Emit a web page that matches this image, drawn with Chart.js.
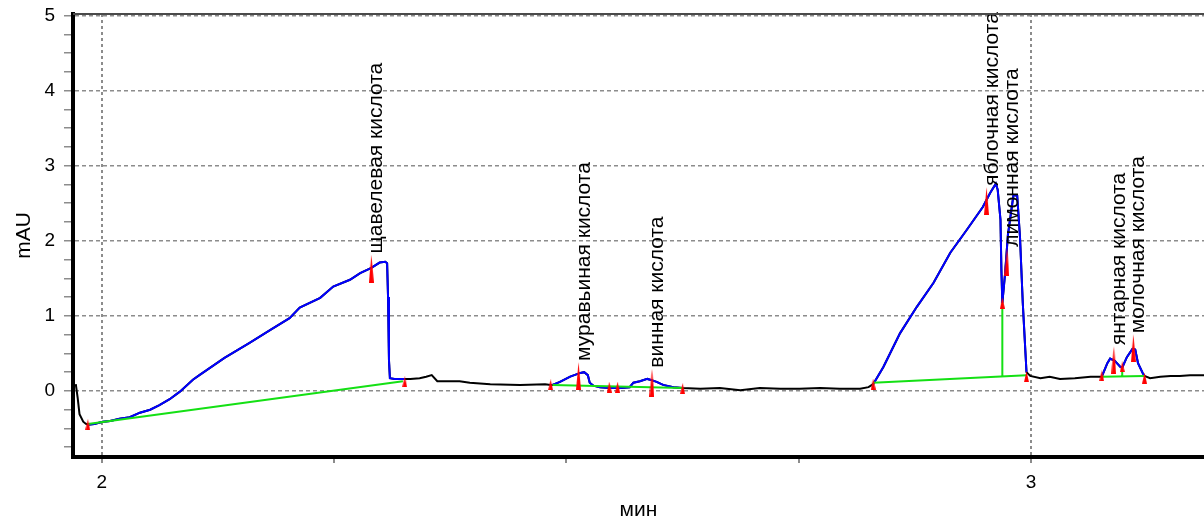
<!DOCTYPE html>
<html>
<head>
<meta charset="utf-8">
<script src="https://cdn.jsdelivr.net/npm/chart.js@4"></script>
<style>
    html, body { margin: 0; padding: 0; background: #fff; overflow: hidden; }
    #wrap { width: 1209px; height: 530px; position: relative; }
</style>
</head>
<body>
<div id="wrap"><canvas id="chroma"></canvas></div>
<script>
// chromatogram signal: [time (min), mAU]
const chromatogram = [
    [1.972, 0.09], [1.974, -0.09], [1.976, -0.31], [1.980, -0.41], [1.983, -0.44], [1.985, -0.45],
    [1.992, -0.44], [2.001, -0.41], [2.009, -0.40], [2.019, -0.37], [2.030, -0.35], [2.041, -0.29],
    [2.052, -0.25], [2.062, -0.19], [2.073, -0.11], [2.084, -0.01], [2.098, 0.15], [2.105, 0.21],
    [2.132, 0.44], [2.159, 0.64], [2.181, 0.81], [2.202, 0.97], [2.213, 1.11], [2.235, 1.24],
    [2.249, 1.39], [2.267, 1.48], [2.278, 1.57], [2.290, 1.64], [2.299, 1.71], [2.305, 1.72],
    [2.307, 1.70], [2.308, 1.25], [2.309, 0.41], [2.310, 0.17], [2.315, 0.16], [2.324, 0.16],
    [2.326, 0.16], [2.332, 0.16], [2.342, 0.17], [2.349, 0.19], [2.355, 0.21], [2.361, 0.13],
    [2.385, 0.13], [2.396, 0.11], [2.418, 0.09], [2.450, 0.08], [2.477, 0.09], [2.483, 0.08],
    [2.485, 0.08], [2.493, 0.12], [2.504, 0.19], [2.515, 0.24], [2.519, 0.25], [2.523, 0.21],
    [2.525, 0.11], [2.529, 0.07], [2.536, 0.05], [2.547, 0.04], [2.558, 0.04], [2.568, 0.05],
    [2.572, 0.11], [2.579, 0.13], [2.587, 0.16], [2.590, 0.15], [2.597, 0.12], [2.604, 0.08],
    [2.615, 0.05], [2.625, 0.04], [2.644, 0.03], [2.665, 0.04], [2.687, 0.01], [2.708, 0.04],
    [2.730, 0.03], [2.751, 0.03], [2.773, 0.04], [2.794, 0.03], [2.816, 0.03], [2.825, 0.05],
    [2.830, 0.09], [2.841, 0.32], [2.859, 0.77], [2.877, 1.12], [2.895, 1.44], [2.913, 1.84],
    [2.931, 2.15], [2.948, 2.45], [2.956, 2.64], [2.962, 2.76], [2.964, 2.68], [2.967, 2.28],
    [2.968, 1.61], [2.969, 1.17], [2.972, 1.57], [2.975, 2.08], [2.981, 2.61], [2.985, 2.60],
    [2.988, 2.05], [2.991, 1.17], [2.995, 0.25], [2.999, 0.20], [3.010, 0.17], [3.020, 0.19],
    [3.031, 0.16], [3.047, 0.17], [3.064, 0.19], [3.074, 0.19], [3.076, 0.19], [3.082, 0.37],
    [3.085, 0.43], [3.090, 0.40], [3.096, 0.32], [3.098, 0.31], [3.103, 0.45], [3.109, 0.56],
    [3.112, 0.55], [3.115, 0.37], [3.120, 0.24], [3.122, 0.20], [3.128, 0.17], [3.139, 0.19],
    [3.150, 0.20], [3.160, 0.20], [3.171, 0.21], [3.186, 0.21]
];

// integrated regions (drawn blue)
const peakWindows = [[1.985, 2.326], [2.485, 2.625], [2.830, 2.995], [3.076, 3.122]];

// baselines and drop lines (green)
const baselineSegments = [
    [[1.985, -0.44], [2.324, 0.13]],
    [[2.485, 0.08], [2.625, 0.04]],
    [[2.830, 0.11], [2.995, 0.21]],
    [[2.969, 1.17], [2.969, 0.20]],
    [[3.076, 0.19], [3.122, 0.20]],
    [[3.098, 0.31], [3.098, 0.19]]
];

// peak start/end/valley markers
const boundaryMarks = [
    [1.985, -0.45], [2.326, 0.12], [2.483, 0.08], [2.546, 0.05], [2.555, 0.05], [2.625, 0.03],
    [2.830, 0.09], [2.969, 1.17], [2.995, 0.19], [3.076, 0.20], [3.098, 0.32], [3.122, 0.17]
];

// apex markers and peak names
const apexMarks = [
    [2.290, 1.63], [2.513, 0.20], [2.592, 0.11], [2.952, 2.53], [2.974, 1.72], [3.089, 0.41], [3.110, 0.57]
];
const peakNames = [
    "щавелевая кислота", "муравьиная кислота", "винная кислота", "яблочная кислота",
    "лимонная кислота", "янтарная кислота", "молочная кислота"
];

const xRange = [1.969, 3.186];
const yRange = [-0.88, 5.02];
const xTickValues = [2, 2.25, 2.5, 2.75, 3];
const yTickValues = [-0.75, -0.5, -0.25, 0, 0.25, 0.5, 0.75, 1, 1.25, 1.5, 1.75, 2, 2.25, 2.5, 2.75,
    3, 3.25, 3.5, 3.75, 4, 4.25, 4.5, 4.75, 5];

const FONT = "'Liberation Sans', Arial, sans-serif";

function toXY(pair) {
    return { x: pair[0], y: pair[1] };
}

function inWindow(t) {
    return peakWindows.some(function (w) { return t >= w[0] && t <= w[1]; });
}

function makeSpike(w, h) {
    const c = document.createElement("canvas");
    c.width = w;
    c.height = h;
    const g = c.getContext("2d");
    g.fillStyle = "#ff0000";
    g.beginPath();
    g.moveTo(w / 2, 0);
    g.lineTo(w, h);
    g.lineTo(0, h);
    g.closePath();
    g.fill();
    return c;
}

function majorOnly(c) {
    return c.tick && Number.isInteger(c.tick.value) ? "#8c8c8c" : "rgba(0,0,0,0)";
}

const blackData = chromatogram.map(toXY);
const blueData = chromatogram.map(function (p) {
    return inWindow(p[0]) ? toXY(p) : { x: p[0], y: null };
});
const greenData = [];
baselineSegments.forEach(function (seg) {
    greenData.push(toXY(seg[0]), toXY(seg[1]), { x: seg[1][0], y: null });
});

const peakLabels = {
    id: "peakLabels",
    afterDatasetsDraw: function (chart) {
        const meta = chart.getDatasetMeta(0);
        const ctx = chart.ctx;
        ctx.save();
        ctx.font = "21px " + FONT;
        ctx.fillStyle = "#000";
        ctx.textAlign = "left";
        ctx.textBaseline = "alphabetic";
        meta.data.forEach(function (pt, i) {
            ctx.save();
            ctx.translate(pt.x, pt.y - 15);
            ctx.rotate(-Math.PI / 2);
            ctx.fillText(peakNames[i], 0, 11);
            ctx.restore();
        });
        ctx.restore();
    }
};

const topFrame = {
    id: "topFrame",
    afterDraw: function (chart) {
        const a = chart.chartArea;
        const ctx = chart.ctx;
        ctx.save();
        ctx.strokeStyle = "#4a4a4a";
        ctx.lineWidth = 2;
        ctx.beginPath();
        ctx.moveTo(a.left, a.top);
        ctx.lineTo(a.right, a.top);
        ctx.stroke();
        ctx.restore();
    }
};

new Chart(document.getElementById("chroma").getContext("2d"), {
    type: "line",
    data: {
        datasets: [
            {
                label: "apex",
                data: apexMarks.map(toXY),
                showLine: false,
                pointStyle: makeSpike(5, 28),
                pointRadius: 3,
                clip: false
            },
            {
                label: "bounds",
                data: boundaryMarks.map(toXY),
                showLine: false,
                pointStyle: makeSpike(5, 11),
                pointRadius: 3,
                clip: false
            },
            {
                label: "baseline",
                data: greenData,
                borderColor: "#14e014",
                borderWidth: 2,
                pointRadius: 0,
                spanGaps: false,
                tension: 0
            },
            {
                label: "peaks",
                data: blueData,
                borderColor: "#0000ff",
                borderWidth: 2,
                pointRadius: 0,
                spanGaps: false,
                tension: 0
            },
            {
                label: "signal",
                data: blackData,
                borderColor: "#000000",
                borderWidth: 2,
                pointRadius: 0,
                tension: 0
            }
        ]
    },
    options: {
        responsive: true,
        maintainAspectRatio: false,
        animation: false,
        events: [],
        layout: { padding: { top: 14, left: 0, right: 0, bottom: 0 } },
        plugins: {
            legend: { display: false },
            tooltip: { enabled: false }
        },
        scales: {
            x: {
                type: "linear",
                min: xRange[0],
                max: xRange[1],
                afterBuildTicks: function (scale) {
                    scale.ticks = xTickValues.map(function (v) { return { value: v }; });
                },
                afterFit: function (scale) {
                    scale.height = 73;
                    scale.paddingLeft = 0;
                    scale.paddingRight = 0;
                },
                ticks: {
                    autoSkip: false,
                    maxRotation: 0,
                    padding: 8,
                    color: "#000",
                    font: { family: FONT, size: 19 },
                    callback: function (v) { return Number.isInteger(v) ? String(v) : ""; }
                },
                grid: {
                    color: majorOnly,
                    tickColor: "#8c8c8c",
                    lineWidth: 2,
                    tickBorderDash: [],
                    tickLength: 6
                },
                border: { color: "#000", width: 4, dash: [3, 3] },
                title: {
                    display: true,
                    text: "мин",
                    color: "#000",
                    font: { family: FONT, size: 21 },
                    padding: { top: 0, bottom: 7 }
                }
            },
            y: {
                type: "linear",
                min: yRange[0],
                max: yRange[1],
                afterBuildTicks: function (scale) {
                    scale.ticks = yTickValues.map(function (v) { return { value: v }; });
                },
                afterFit: function (scale) {
                    scale.width = 73;
                    scale.paddingTop = 0;
                    scale.paddingBottom = 0;
                },
                ticks: {
                    autoSkip: false,
                    padding: 9,
                    color: "#000",
                    font: { family: FONT, size: 19 },
                    callback: function (v) { return Number.isInteger(v) ? String(v) : ""; }
                },
                grid: {
                    color: majorOnly,
                    tickColor: "#8c8c8c",
                    lineWidth: 1.5,
                    tickBorderDash: [],
                    tickLength: 9
                },
                border: { color: "#000", width: 4, dash: [4, 3] },
                title: {
                    display: true,
                    text: "mAU",
                    color: "#000",
                    font: { family: FONT, size: 21 },
                    padding: { top: 12, bottom: 0 }
                }
            }
        }
    },
    plugins: [peakLabels, topFrame]
});
</script>
</body>
</html>
